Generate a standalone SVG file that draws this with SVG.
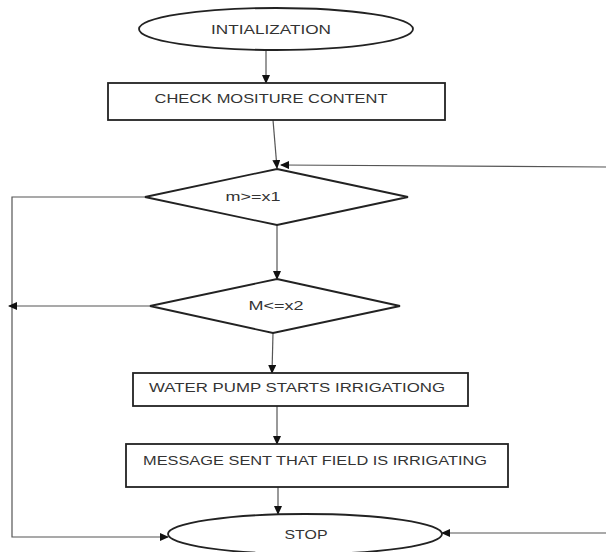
<svg xmlns="http://www.w3.org/2000/svg" width="606" height="552" viewBox="0 0 606 552">
<style>
.shape{fill:#fff;stroke:#222;stroke-width:1.8}
.conn{fill:none;stroke:#555;stroke-width:1.2;marker-end:url(#arr)}
.line{fill:none;stroke:#555;stroke-width:1.2}
text{font-family:"Liberation Sans",Arial,sans-serif;fill:#333;font-size:12.5px;text-anchor:middle}
</style>
<defs>
<marker id="arr" markerUnits="userSpaceOnUse" markerWidth="9" markerHeight="8" refX="8" refY="4" orient="auto">
<path d="M0,0 L9,4 L0,8 Z" fill="#111"/>
</marker>
</defs>
<rect width="606" height="552" fill="#fff"/>
<g id="connectors">
<path class="conn" d="M266,50 L266,83"/>
<path class="conn" d="M273,120 L277,168"/>
<path class="conn" d="M606,167 L281,165"/>
<path class="conn" d="M145,197 L12,197 L12,537 L168,537"/>
<path class="conn" d="M277,225 L277,279"/>
<path class="conn" d="M150,306 L9,306"/>
<path class="conn" d="M273,333 L272,373"/>
<path class="conn" d="M277,406 L277,444"/>
<path class="conn" d="M278,487 L278,514"/>
<path class="conn" d="M606,533 L442,533"/>
</g>
<g id="init">
<ellipse class="shape" cx="276" cy="29" rx="137" ry="21"/>
<text x="271" y="34" textLength="120" lengthAdjust="spacingAndGlyphs">INTIALIZATION</text>
</g>
<g id="check">
<rect class="shape" x="108" y="83" width="337" height="37"/>
<text x="271" y="103" textLength="233" lengthAdjust="spacingAndGlyphs">CHECK MOSITURE CONTENT</text>
</g>
<g id="dec1">
<polygon class="shape" points="277,169 408,197 277,225 145,197"/>
<text x="253" y="201" textLength="55" lengthAdjust="spacingAndGlyphs">m&gt;=x1</text>
</g>
<g id="dec2">
<polygon class="shape" points="277,279 400,306 273,333 150,306"/>
<text x="276" y="310" textLength="55" lengthAdjust="spacingAndGlyphs">M&lt;=x2</text>
</g>
<g id="pump">
<rect class="shape" x="133" y="373" width="335" height="33"/>
<text x="297" y="392" textLength="296" lengthAdjust="spacingAndGlyphs">WATER PUMP STARTS IRRIGATIONG</text>
</g>
<g id="message">
<rect class="shape" x="126" y="444" width="382" height="43"/>
<text x="315" y="465" textLength="344" lengthAdjust="spacingAndGlyphs">MESSAGE SENT THAT FIELD IS IRRIGATING</text>
</g>
<g id="stop">
<ellipse class="shape" cx="305" cy="534" rx="137" ry="20"/>
<text x="306" y="539" textLength="43" lengthAdjust="spacingAndGlyphs">STOP</text>
</g>
</svg>
